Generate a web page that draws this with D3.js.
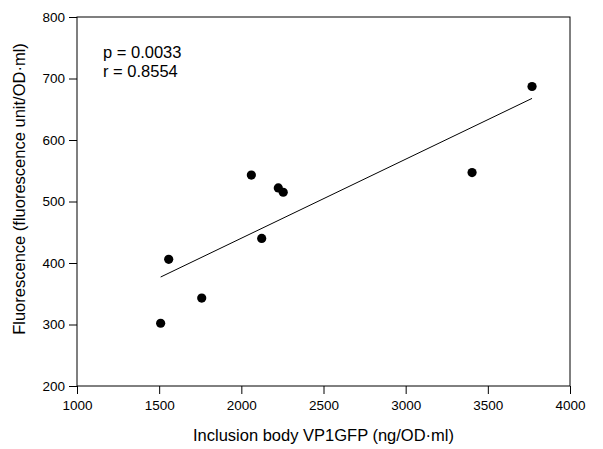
<!DOCTYPE html>
<html>
<head>
<meta charset="utf-8">
<script src="https://cdn.jsdelivr.net/npm/d3@7"></script>
<style>
  body { margin: 0; background: #fff; }
  text { font-family: "Liberation Sans", Arial, sans-serif; fill: #000; }
</style>
</head>
<body>
<script>
// inclusion body (ng/OD·ml) vs fluorescence (unit/OD·ml)
var inclusionBody = [2061, 2225, 2255, 2124, 1558, 1759, 1509, 3769, 3404];
var fluorescence = [543, 522, 515, 440, 406, 343, 302, 687, 547];
var xTicks = [1000, 1500, 2000, 2500, 3000, 3500, 4000];
var yTicks = [200, 300, 400, 500, 600, 700, 800];
var statLines = ["p = 0.0033", "r = 0.8554"];

var W = 603, H = 449,
  margin = {top: 17, right: 33, bottom: 63, left: 77},
  width = W - margin.left - margin.right,
  height = H - margin.top - margin.bottom;

var svg = d3.select("body").append("svg")
  .attr("width", W)
  .attr("height", H);

var g = svg.append("g")
  .attr("transform", "translate(" + margin.left + "," + margin.top + ")");

var x = d3.scaleLinear().domain([1000, 4000]).range([0, width]);
var y = d3.scaleLinear().domain([200, 800]).range([height, 0]);

// frame
g.append("rect")
  .attr("width", width).attr("height", height)
  .attr("fill", "none").attr("stroke", "#000").attr("stroke-width", 1);

var xAxis = g.append("g")
  .attr("transform", "translate(0," + height + ")")
  .call(d3.axisBottom(x).tickValues(xTicks).tickSize(8).tickPadding(6).tickFormat(d3.format("d")));

var yAxis = g.append("g")
  .call(d3.axisLeft(y).tickValues(yTicks).tickSize(8).tickPadding(4).tickFormat(d3.format("d")));

[xAxis, yAxis].forEach(function (a) {
  a.select(".domain").remove();
  a.selectAll("text").style("font-size", "13.5px").style("font-family", "Liberation Sans, Arial, sans-serif");
  a.selectAll("line").attr("stroke", "#000");
});

// regression line from the data
var n = inclusionBody.length,
  mx = d3.mean(inclusionBody), my = d3.mean(fluorescence),
  sxy = 0, sxx = 0;
for (var i = 0; i < n; i++) {
  sxy += (inclusionBody[i] - mx) * (fluorescence[i] - my);
  sxx += (inclusionBody[i] - mx) * (inclusionBody[i] - mx);
}
var slope = sxy / sxx, icpt = my - slope * mx;
var x0 = d3.min(inclusionBody), x1 = d3.max(inclusionBody);

g.append("line")
  .attr("x1", x(x0)).attr("y1", y(icpt + slope * x0))
  .attr("x2", x(x1)).attr("y2", y(icpt + slope * x1))
  .attr("stroke", "#000").attr("stroke-width", 1);

g.selectAll("circle.pt")
  .data(inclusionBody)
  .enter().append("circle")
  .attr("class", "pt")
  .attr("cx", function (d) { return x(d); })
  .attr("cy", function (d, i) { return y(fluorescence[i]); })
  .attr("r", 4.6)
  .attr("fill", "#000");

g.selectAll("text.stat")
  .data(statLines)
  .enter().append("text")
  .attr("class", "stat")
  .attr("x", 26)
  .attr("y", function (d, i) { return 41 + i * 18.5; })
  .style("font-size", "16.5px")
  .text(function (d) { return d; });

svg.append("text")
  .attr("x", margin.left + width / 2)
  .attr("y", 441)
  .attr("text-anchor", "middle")
  .style("font-size", "16.5px")
  .text("Inclusion body VP1GFP (ng/OD\u00b7ml)");

svg.append("text")
  .attr("transform", "translate(25,189) rotate(-90)")
  .attr("text-anchor", "middle")
  .style("font-size", "16.5px")
  .text("Fluorescence (fluorescence unit/OD\u00b7ml)");
</script>
</body>
</html>
